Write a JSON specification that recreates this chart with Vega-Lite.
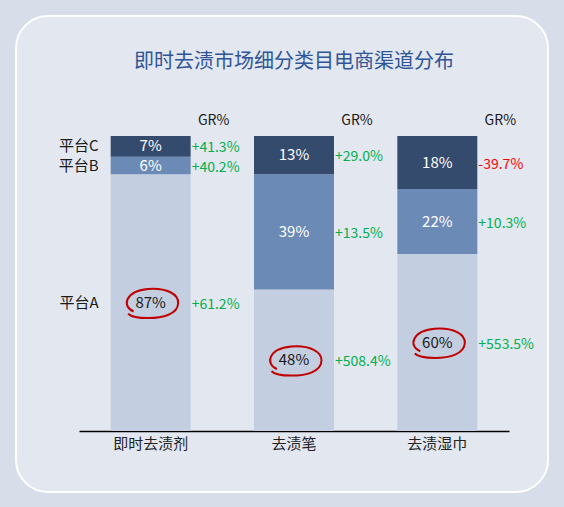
{
  "$schema": "https://vega.github.io/schema/vega-lite/v6.json",
  "width": 532,
  "height": 476,
  "autosize": {"type": "none"},
  "padding": {"left": 16, "top": 16, "right": 16, "bottom": 15},
  "background": "#d7dde9",
  "config": {
    "view": {"fill": "#e3e7ef", "stroke": "#ffffff", "strokeWidth": 2, "cornerRadius": 32},
    "font": "Noto Sans CJK SC",
    "text": {"font": "Noto Sans CJK SC"},
    "locale": {"number": {"decimal": ".", "thousands": ",", "grouping": [3], "currency": ["$", ""], "minus": "-"}}
  },
  "data": {
    "values": [
      {"cat": "即时去渍剂", "seg": "平台A", "share": 0.87, "gr": 0.612},
      {"cat": "即时去渍剂", "seg": "平台B", "share": 0.06, "gr": 0.402},
      {"cat": "即时去渍剂", "seg": "平台C", "share": 0.07, "gr": 0.413},
      {"cat": "去渍笔", "seg": "平台A", "share": 0.48, "gr": 5.084},
      {"cat": "去渍笔", "seg": "平台B", "share": 0.39, "gr": 0.135},
      {"cat": "去渍笔", "seg": "平台C", "share": 0.13, "gr": 0.29},
      {"cat": "去渍湿巾", "seg": "平台A", "share": 0.60, "gr": 5.535},
      {"cat": "去渍湿巾", "seg": "平台B", "share": 0.22, "gr": 0.103},
      {"cat": "去渍湿巾", "seg": "平台C", "share": 0.18, "gr": -0.397}
    ]
  },
  "encoding": {
    "x": {
      "field": "cat",
      "type": "nominal",
      "sort": ["即时去渍剂", "去渍笔", "去渍湿巾"],
      "scale": {"range": [63, 493], "paddingInner": 0.442, "paddingOuter": 0.221},
      "axis": {
        "title": null,
        "orient": "bottom",
        "offset": -61,
        "domainColor": "#000000",
        "domainWidth": 1.5,
        "ticks": false,
        "labelPadding": 5,
        "labelFontSize": 15,
        "labelColor": "#222222",
        "labelAngle": 0,
        "labelFont": "Noto Sans CJK SC"
      }
    }
  },
  "layer": [
    {
      "mark": {"type": "bar"},
      "encoding": {
        "y": {"field": "share", "type": "quantitative", "stack": "zero", "scale": {"domain": [0, 1], "range": [415, 120]}, "axis": null},
        "color": {
          "field": "seg",
          "type": "nominal",
          "scale": {"domain": ["平台A", "平台B", "平台C"], "range": ["#c3cee0", "#6b8ab5", "#354b6d"]},
          "legend": null
        },
        "order": {"field": "seg", "sort": "ascending"}
      }
    },
    {
      "mark": {"type": "text", "fontSize": 15, "baseline": "middle"},
      "encoding": {
        "y": {"field": "share", "type": "quantitative", "stack": "zero", "bandPosition": 0.5, "axis": null},
        "detail": {"field": "seg"},
        "order": {"field": "seg", "sort": "ascending"},
        "text": {"field": "share", "format": ".0%"},
        "color": {"condition": {"test": "datum.seg === '平台A'", "value": "#1a1a1a"}, "value": "#ffffff"}
      }
    },
    {
      "mark": {"type": "text", "fontSize": 14, "baseline": "middle", "align": "left", "dx": 1, "dy": 2},
      "encoding": {
        "x": {"field": "cat", "type": "nominal", "bandPosition": 1},
        "y": {"field": "share", "type": "quantitative", "stack": "zero", "bandPosition": 0.5, "axis": null},
        "detail": {"field": "seg"},
        "order": {"field": "seg", "sort": "ascending"},
        "text": {"field": "gr", "format": "+.1%"},
        "color": {"condition": {"test": "datum.gr < 0", "value": "#ff0000"}, "value": "#00b050"}
      }
    },
    {
      "transform": [{"filter": "datum.cat === '即时去渍剂'"}],
      "mark": {"type": "text", "fontSize": 15, "baseline": "middle", "align": "right", "dx": -12, "color": "#1a1a1a"},
      "encoding": {
        "x": {"field": "cat", "type": "nominal", "bandPosition": 0},
        "y": {"field": "share", "type": "quantitative", "stack": "zero", "bandPosition": 0.5, "axis": null},
        "detail": {"field": "seg"},
        "order": {"field": "seg", "sort": "ascending"},
        "text": {"field": "seg"}
      }
    },
    {
      "transform": [{"filter": "datum.seg === '平台C'"}],
      "mark": {"type": "text", "fontSize": 14, "baseline": "middle", "align": "center", "dx": 63, "dy": -15, "color": "#1a1a1a"},
      "encoding": {
        "x": {"field": "cat", "type": "nominal", "bandPosition": 0.5},
        "y": {"datum": 1, "type": "quantitative", "axis": null},
        "text": {"value": "GR%"}
      }
    },
    {
      "transform": [{"filter": "datum.seg === '平台A'"}],
      "mark": {
        "type": "point",
        "shape": "M -0.62 0.32 C -1.05 0.15 -0.95 -0.42 -0.1 -0.5 C 0.6 -0.55 1.02 -0.3 1 0.02 C 0.98 0.42 0.45 0.56 -0.1 0.56 C -0.45 0.56 -0.72 0.5 -0.82 0.4",
        "size": 3025,
        "filled": false,
        "stroke": "#c00000",
        "strokeWidth": 2,
        "opacity": 1
      },
      "encoding": {
        "y": {"field": "share", "type": "quantitative", "stack": "zero", "bandPosition": 0.5, "axis": null}
      }
    },
    {
      "data": {"values": [{"t": "即时去渍市场细分类目电商渠道分布"}]},
      "mark": {"type": "text", "fontSize": 20, "baseline": "middle", "align": "center", "color": "#2f5597"},
      "encoding": {
        "x": {"datum": "去渍笔", "type": "nominal"},
        "y": {"datum": 1.25, "type": "quantitative", "axis": null},
        "text": {"field": "t"}
      }
    }
  ]
}
